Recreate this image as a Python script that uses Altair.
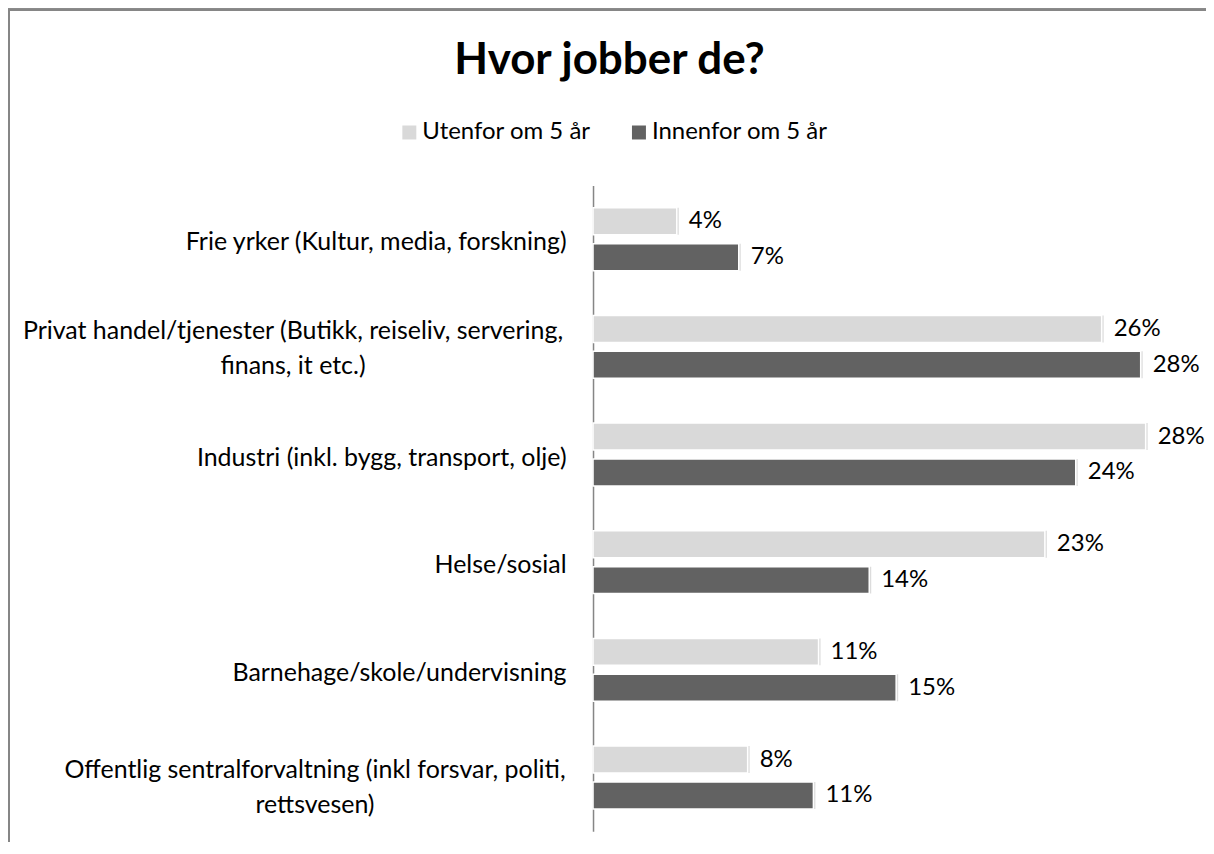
import altair as alt
import pandas as pd

# ---- data ----
categories = [
    "Frie yrker (Kultur, media, forskning)",
    "Privat handel/tjenester (Butikk, reiseliv, servering,|finans, it etc.)",
    "Industri (inkl. bygg, transport, olje)",
    "Helse/sosial",
    "Barnehage/skole/undervisning",
    "Offentlig sentralforvaltning (inkl forsvar, politi,|rettsvesen)",
]
series = ["Utenfor om 5 år", "Innenfor om 5 år"]
utenfor = [0.0423, 0.2569, 0.2791, 0.2282, 0.1139, 0.0781]
innenfor = [0.0736, 0.2766, 0.2438, 0.1395, 0.1531, 0.1113]
colors = ["#d9d9d9", "#626262"]

rows = []
for c, u, i in zip(categories, utenfor, innenfor):
    rows.append({"kategori": c, "serie": series[0], "andel": u})
    rows.append({"kategori": c, "serie": series[1], "andel": i})
df = pd.DataFrame(rows)

FONT = "Lato"

y_enc = alt.Y(
    "kategori:N",
    sort=categories,
    scale=alt.Scale(paddingInner=0.416, paddingOuter=0.208),
    axis=alt.Axis(
        title=None,
        ticks=False,
        domainColor="#868686",
        domainWidth=1.5,
        labelFont=FONT,
        labelFontSize=25,
        labelColor="#000000",
        labelLimit=0,
        labelLineHeight=35,
        labelExpr="split(datum.label, '|')",
        labelAlign={
            "condition": {"test": "indexof(datum.value, '|') >= 0", "value": "center"},
            "value": "right",
        },
        labelPadding={
            "condition": [
                {"test": "indexof(datum.value, 'Privat') === 0", "value": 301},
                {"test": "indexof(datum.value, 'Offentlig') === 0", "value": 279},
            ],
            "value": 27,
        },
        labelOffset={
            "condition": [
                {"test": "indexof(datum.value, 'Privat') === 0", "value": -16},
                {"test": "indexof(datum.value, 'Offentlig') === 0", "value": -7},
            ],
            "value": 3,
        },
    ),
)
yoff = alt.YOffset("serie:N", sort=series, scale=alt.Scale(paddingInner=0.25, paddingOuter=0))
x_enc = alt.X("andel:Q", scale=alt.Scale(domain=[0, 0.30]), axis=None)

base = alt.Chart(df)

shadow = base.mark_bar(color="#9a9a9a", opacity=0.35, xOffset=2, yOffset=3).encode(
    x=x_enc, y=y_enc, yOffset=yoff
)

bars = base.mark_bar(stroke="#ffffff", strokeWidth=1.5).encode(
    x=x_enc,
    y=y_enc,
    yOffset=yoff,
    color=alt.Color(
        "serie:N",
        sort=series,
        scale=alt.Scale(domain=series, range=colors),
        legend=alt.Legend(
            title=None,
            orient="none",
            direction="horizontal",
            legendX=-196,
            legendY=-65,
            symbolType="square",
            symbolSize=196,
            symbolStrokeWidth=0,
            labelFont=FONT,
            labelFontSize=24,
            labelColor="#000000",
            labelLimit=0,
            labelOffset=1,
            columnPadding=36,
        ),
    ),
)

labels = base.mark_text(align="left", baseline="middle", dx=12, font=FONT, fontSize=24, color="#000000").encode(
    x=x_enc,
    y=y_enc,
    yOffset=yoff,
    text=alt.Text("andel:Q", format=".0%"),
)

border_left = base.mark_rule(color="#868686", strokeWidth=2).encode(
    x=alt.value(-585), y=alt.value(-176), y2=alt.value(700)
)
border_top = base.mark_rule(color="#868686", strokeWidth=2).encode(
    y=alt.value(-176), x=alt.value(-586), x2=alt.value(700)
)

chart = (
    alt.layer(shadow, bars, labels, border_left, border_top)
    .properties(
        width=595,
        height=647,
        padding={"left": 586, "top": 177, "right": 19, "bottom": 10},
        autosize=alt.AutoSizeParams(type="none"),
        background="#ffffff",
        title=alt.TitleParams(
            "Hvor jobber de?",
            anchor="middle",
            frame="group",
            dx=-281,
            dy=74,
            fontSize=44,
            font=FONT,
            fontWeight="bold",
            color="#000000",
            offset=0,
        ),
    )
    .configure_view(stroke=None, strokeWidth=0)
)

chart.save("out.html", embed_options={"renderer": "svg", "actions": False})
